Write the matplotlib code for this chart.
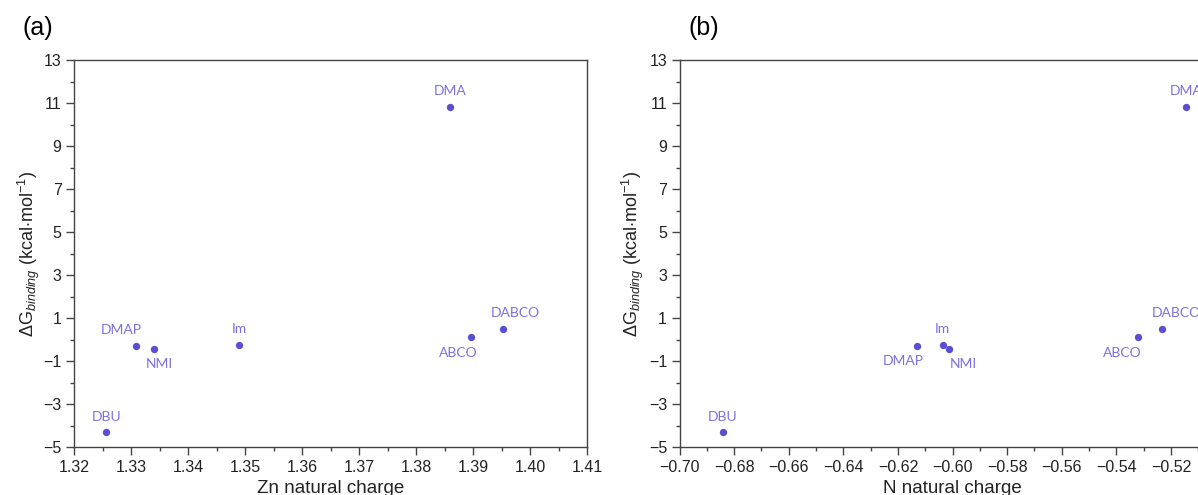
import matplotlib
matplotlib.use("Agg")
import matplotlib.pyplot as plt
from matplotlib.ticker import MultipleLocator

names = ["DBU", "DMAP", "NMI", "Im", "DMA", "ABCO", "DABCO"]
dG = [-4.32, -0.29, -0.43, -0.26, 10.81, 0.10, 0.50]
zn_charge = [1.3257, 1.3308, 1.3340, 1.3490, 1.3860, 1.3896, 1.3952]
n_charge = [-0.6841, -0.6129, -0.6012, -0.6036, -0.5144, -0.5322, -0.5232]

# label offsets (points) per panel
offs_a = {"DBU": (0, 7, "center", "bottom"), "DMAP": (-10, 7, "center", "bottom"),
          "NMI": (4, -7, "center", "top"), "Im": (0, 7, "center", "bottom"),
          "DMA": (0, 7, "center", "bottom"), "ABCO": (-9, -7, "center", "top"),
          "DABCO": (9, 7, "center", "bottom")}
offs_b = {"DBU": (0, 7, "center", "bottom"), "DMAP": (-10, -7, "center", "top"),
          "NMI": (10, -7, "center", "top"), "Im": (0, 7, "center", "bottom"),
          "DMA": (0, 7, "center", "bottom"), "ABCO": (-11, -7, "center", "top"),
          "DABCO": (10, 7, "center", "bottom")}

plt.rcParams['font.family'] = ['Liberation Sans', 'DejaVu Sans']
plt.rcParams['mathtext.fontset'] = 'custom'
plt.rcParams['mathtext.rm'] = 'Liberation Sans'
plt.rcParams['mathtext.it'] = 'Liberation Sans:italic'

dot_c = "#5a4fd0"
lab_c = "#7d70de"
spine_c = "#444444"

fig = plt.figure(figsize=(11.98, 4.95), dpi=100)
ax_a = fig.add_axes([74/1198, 1-447/495, 513/1198, 387/495])
ax_b = fig.add_axes([679.6/1198, 1-447/495, 546/1198, 387/495])

def setup(ax, x, xlim, xmaj, xmin, xlabel, offs, fmt):
    ax.scatter(x, dG, s=28, color=dot_c, zorder=3, linewidths=0)
    for n, xi, yi in zip(names, x, dG):
        dx, dy, ha, va = offs[n]
        ax.annotate(n, (xi, yi), xytext=(dx, dy), textcoords="offset points",
                    ha=ha, va=va, color=lab_c, fontsize=10, family=['Lato', 'DejaVu Sans'])
    ax.set_xlim(*xlim)
    ax.set_ylim(-5, 13)
    ax.xaxis.set_major_locator(MultipleLocator(xmaj))
    ax.xaxis.set_minor_locator(MultipleLocator(xmin))
    ax.yaxis.set_major_locator(MultipleLocator(2, offset=1))
    ax.yaxis.set_minor_locator(MultipleLocator(1))
    ax.xaxis.set_major_formatter(plt.FuncFormatter(lambda v, p: fmt(v)))
    ax.yaxis.set_major_formatter(plt.FuncFormatter(lambda v, p: f"{v:.0f}".replace("-", "\u2212")))
    ax.tick_params(which="major", direction="out", length=6, width=1, color=spine_c,
                   labelsize=11.5, labelcolor="#222222", pad=3)
    ax.tick_params(which="minor", direction="out", length=3, width=1, color=spine_c)
    for s in ax.spines.values():
        s.set_color(spine_c)
        s.set_linewidth(1.0)
    ax.set_xlabel(xlabel, fontsize=13.5, color="#222222")
    ax.set_ylabel(r"$\Delta$G$_{\mathit{binding}}$ (kcal$\cdot$mol$^{-1}$)", fontsize=13, color="#222222")

setup(ax_a, zn_charge, (1.32, 1.41), 0.01, 0.005, "Zn natural charge",
      offs_a, lambda v: f"{v:.2f}")
setup(ax_b, n_charge, (-0.70, -0.50), 0.02, 0.01, "N natural charge",
      offs_b, lambda v: f"{v:.2f}".replace("-", "\u2212"))
ax_a.xaxis.set_label_coords(0.5, -0.085)
ax_b.xaxis.set_label_coords(0.5, -0.085)
ax_a.yaxis.set_label_coords(-0.062, 0.5)
ax_b.yaxis.set_label_coords(-0.062, 0.5)

fig.text(22/1198, 1-28/495, "(a)", fontsize=18, va="center", ha="left")
fig.text(688/1198, 1-28/495, "(b)", fontsize=18, va="center", ha="left")

fig.savefig("out.png", dpi=100)
